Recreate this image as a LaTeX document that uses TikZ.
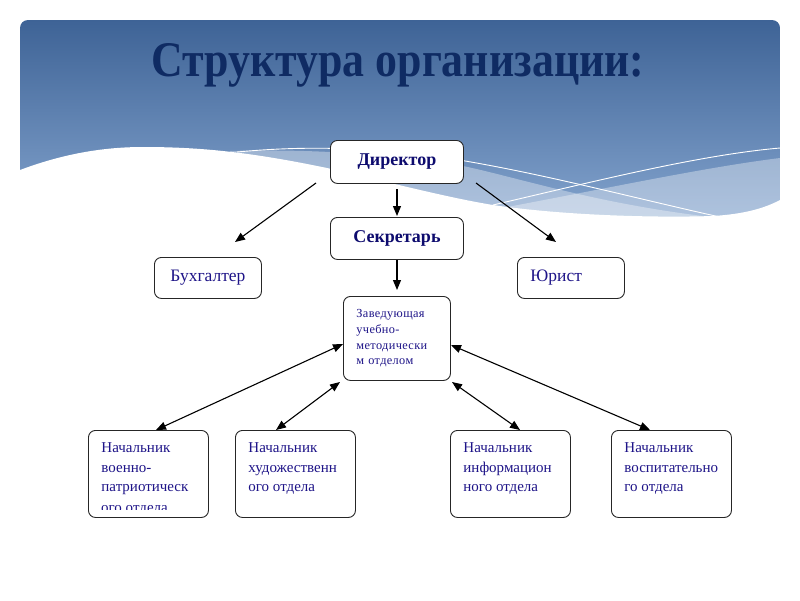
\documentclass[tikz,border=0pt]{standalone}
\usepackage{fontspec}
\setmainfont{Liberation Serif}
\usetikzlibrary{arrows.meta,calc}
\definecolor{titlec}{HTML}{0F2B63}
\definecolor{boxtxt}{HTML}{1E1488}
\definecolor{boldtxt}{HTML}{0D0B6E}
\definecolor{bgtop}{HTML}{3E6396}
\definecolor{bgbot}{HTML}{8AAAD3}
\begin{document}
\begin{tikzpicture}[x=1pt,y=-1pt,
  orgbox/.style={draw=black!85, line width=0.9pt, rounded corners=7pt, fill=white, inner sep=0pt, anchor=north west},
  boldbox/.style={orgbox, font=\fontsize{18}{20}\selectfont\bfseries, text=boldtxt},
  plainbox/.style={orgbox, font=\fontsize{17.5}{20}\selectfont, text=boxtxt},
  lowbox/.style={orgbox, inner xsep=13pt, inner ysep=12.5pt, font=\fontsize{15}{19.6}\selectfont, text=boxtxt},
  arr/.style={line width=1.1pt, -{Triangle[length=10pt,width=8pt]}},
  barr/.style={line width=1.1pt, {Triangle[length=10pt,width=8pt]}-{Triangle[length=10pt,width=8pt]}}]

\useasboundingbox (0,0) rectangle (800,600);
\fill[white] (0,0) rectangle (800,600);

% header background
\begin{scope}
  \clip[rounded corners=8pt] (20,20) rectangle (780,280);
  \shade[top color=bgtop, bottom color=bgbot] (20,20) rectangle (780,240);
  % descending light band
  \fill[white, opacity=0.35] (230,151) .. controls (330,148) and (420,158) .. (463,166)
     .. controls (520,178) and (600,205) .. (720,218) -- (720,240) -- (230,240) -- cycle;
  % rising light band
  \fill[white, opacity=0.35] (470,214) .. controls (600,190) and (700,168) .. (780,158)
     -- (780,240) -- (470,240) -- cycle;
  % white wave
  \fill[white] (20,170) .. controls (60,155) and (100,147) .. (143,147)
     .. controls (200,147) and (250,152) .. (327,168)
     .. controls (400,185) and (450,198) .. (493,205)
     .. controls (560,215) and (650,218) .. (713,216)
     .. controls (745,214) and (765,208) .. (780,200) -- (780,280) -- (20,280) -- cycle;
  % thin white lines
  \draw[white, line width=0.9pt] (237,152) .. controls (280,148) and (330,146) .. (400,152)
     .. controls (500,162) and (620,195) .. (720,217);
  \draw[white, line width=0.9pt] (493,205) .. controls (600,180) and (700,155) .. (780,148);
\end{scope}

% title
\node[anchor=base, text=titlec] (title) at (398,76)
  {\resizebox{493pt}{33pt}{\bfseries Структура организации:}};

% boxes
\node[boldbox, minimum width=133pt, minimum height=43pt] (dir) at (330,140) {Директор};
\node[boldbox, minimum width=133pt, minimum height=42pt] (sec) at (330,217) {Секретарь};
\node[plainbox, minimum width=107pt, minimum height=41pt] (buh) at (154,257) {Бухгалтер};
\node[plainbox, minimum width=107pt, minimum height=41pt, inner xsep=13pt, text width=81pt, align=left] (jur) at (517,257) {Юрист};
\node[orgbox, minimum width=107pt, minimum height=84pt, inner xsep=13pt, text width=81pt, align=left,
      font=\fontsize{12.3}{15.7}\selectfont\addfontfeature{LetterSpace=3}, text=boxtxt] (zav) at (343,296)
  {Заведующая\\учебно-\\методически\\м отделом};

\node[lowbox] (b1) at (88,430) {\parbox[t][62pt][t]{94pt}{Начальник\\военно-\\патриотическ}};
\node[lowbox] (b2) at (235,430) {\parbox[t][62pt][t]{94pt}{Начальник\\художественн\\ого отдела}};
\node[lowbox] (b3) at (450,430) {\parbox[t][62pt][t]{94pt}{Начальник\\информацион\\ного отдела}};
\node[lowbox] (b4) at (611,430) {\parbox[t][62pt][t]{94pt}{Начальник\\воспитательно\\го отдела}};

% clipped fourth line of the first box
\begin{scope}
  \clip (90,500) rectangle (206,509.5);
  \node[anchor=base west, inner sep=0pt, font=\fontsize{15}{19.6}\selectfont, text=boxtxt] (b1x) at (101,512.5) {ого отдела};
\end{scope}

% connector end points
\coordinate (d1) at (316,183);
\coordinate (d1e) at (235,242);
\coordinate (d2) at (397,189);
\coordinate (d2e) at (397,216);
\coordinate (d3) at (476,183);
\coordinate (d3e) at (556,242);
\coordinate (s1) at (397,260);
\coordinate (s1e) at (397,290);
\coordinate (z1) at (343,344);
\coordinate (z2) at (340,382);
\coordinate (z3) at (452,382);
\coordinate (z4) at (451,345);
\coordinate (e1) at (156,430);
\coordinate (e2) at (276,430);
\coordinate (e3) at (520,430);
\coordinate (e4) at (650,430);

\draw[arr] (d1) -- (d1e);
\draw[arr] (d2) -- (d2e);
\draw[arr] (d3) -- (d3e);
\draw[arr] (s1) -- (s1e);
\draw[barr] (z1) -- (e1);
\draw[barr] (z2) -- (e2);
\draw[barr] (z3) -- (e3);
\draw[barr] (z4) -- (e4);
\end{tikzpicture}
\end{document}
